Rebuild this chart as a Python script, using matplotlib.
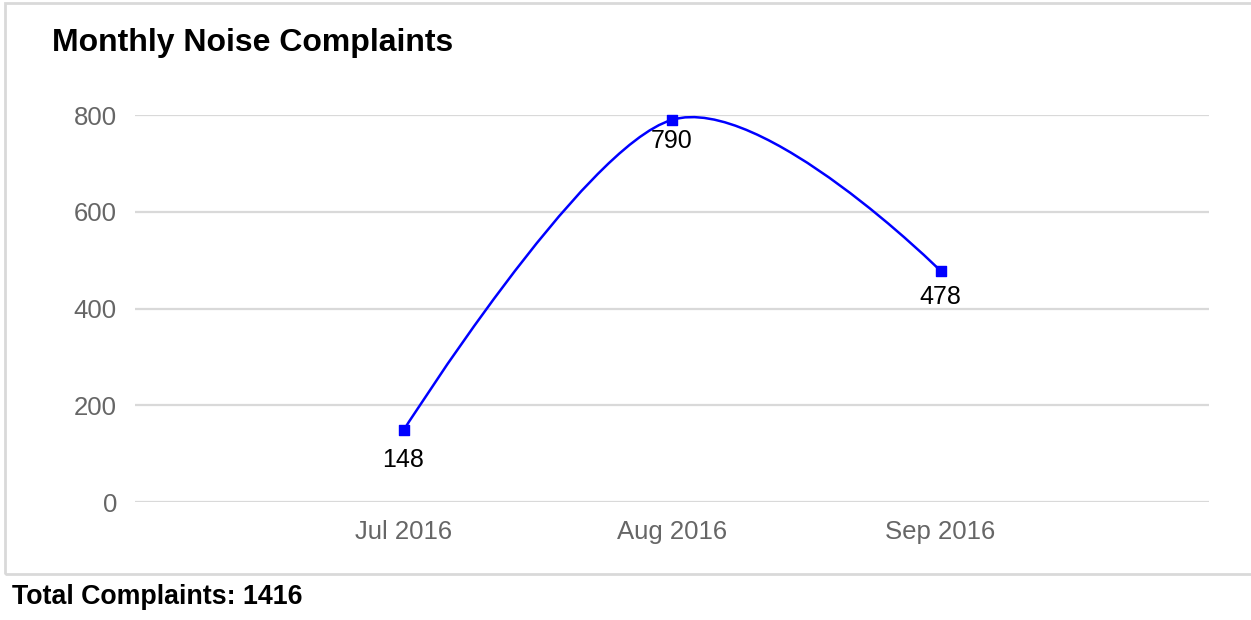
"""Monthly noise complaints line chart (smooth curve, Google-Charts look)."""

import matplotlib
matplotlib.use("Agg")
import matplotlib.pyplot as plt
from matplotlib.path import Path
from matplotlib.patches import PathPatch, Rectangle

# data
months = ["Jul 2016", "Aug 2016", "Sep 2016"]
complaints = [148, 790, 478]
y_ticks = [0, 200, 400, 600, 800]
title = "Monthly Noise Complaints"
total_label = f"Total Complaints: {sum(complaints)}"

W, H = 1251, 620
plt.rcParams["font.family"] = ["Liberation Sans", "DejaVu Sans"]

fig = plt.figure(figsize=(W / 100, H / 100), dpi=100)
fig.patch.set_facecolor("white")

# outer border of the chart box (left, top, bottom; right edge is off-image)
fig.patches.append(Rectangle((5 / W, 1 - 574 / H), (W + 60) / W, (574 - 3) / H,
                             transform=fig.transFigure, fill=False,
                             edgecolor="#d9d9d9", linewidth=2))

ax = fig.add_axes([135 / W, 1 - 502 / H, 1074 / W, 387 / H])
xs = list(range(1, len(months) + 1))

ax.set_xlim(0, len(months) + 1)
ax.set_ylim(0, 800)
ax.set_yticks(y_ticks)
ax.set_xticks(xs)
ax.set_xticklabels(months)
ax.grid(axis="y", color="#d9d9d9", linewidth=1.6)
ax.set_axisbelow(True)
for s in ax.spines.values():
    s.set_visible(False)
ax.tick_params(axis="both", length=0, labelsize=18.5, labelcolor="#666666")
ax.tick_params(axis="y", pad=13)
ax.tick_params(axis="x", pad=13)

# smooth curve through the points: cubic bezier, catmull-rom tangents
n = len(xs)
tangents = []
for i in range(n):
    if i == 0 or i == n - 1:
        tangents.append((0.0, 0.0))
    else:
        tangents.append(((xs[i + 1] - xs[i - 1]) / 2, (complaints[i + 1] - complaints[i - 1]) / 2))
verts = [(xs[0], complaints[0])]
codes = [Path.MOVETO]
for i in range(n - 1):
    c1 = (xs[i] + tangents[i][0] / 3, complaints[i] + tangents[i][1] / 3)
    c2 = (xs[i + 1] - tangents[i + 1][0] / 3, complaints[i + 1] - tangents[i + 1][1] / 3)
    verts += [c1, c2, (xs[i + 1], complaints[i + 1])]
    codes += [Path.CURVE4] * 3
ax.add_patch(PathPatch(Path(verts, codes), fill=False, edgecolor="#0000ff",
                       linewidth=1.8, clip_on=False, zorder=3))

ax.scatter(xs, complaints, marker="s", s=60, color="#0000ff", zorder=4, clip_on=False)

label_offsets = [-21, -15, -19]
for x, y, off in zip(xs, complaints, label_offsets):
    ax.annotate(str(y), (x, y), xytext=(0, off), textcoords="offset points",
                ha="center", va="center", fontsize=18, color="black", zorder=5)

fig.text(52 / W, 1 - 43 / H, title, fontsize=23, fontweight="bold",
         ha="left", va="center", color="black")
fig.text(12 / W, 1 - 597 / H, total_label, fontsize=19.3, fontweight="bold",
         ha="left", va="center", color="black")

fig.savefig("out.png", dpi=100, facecolor="white")
